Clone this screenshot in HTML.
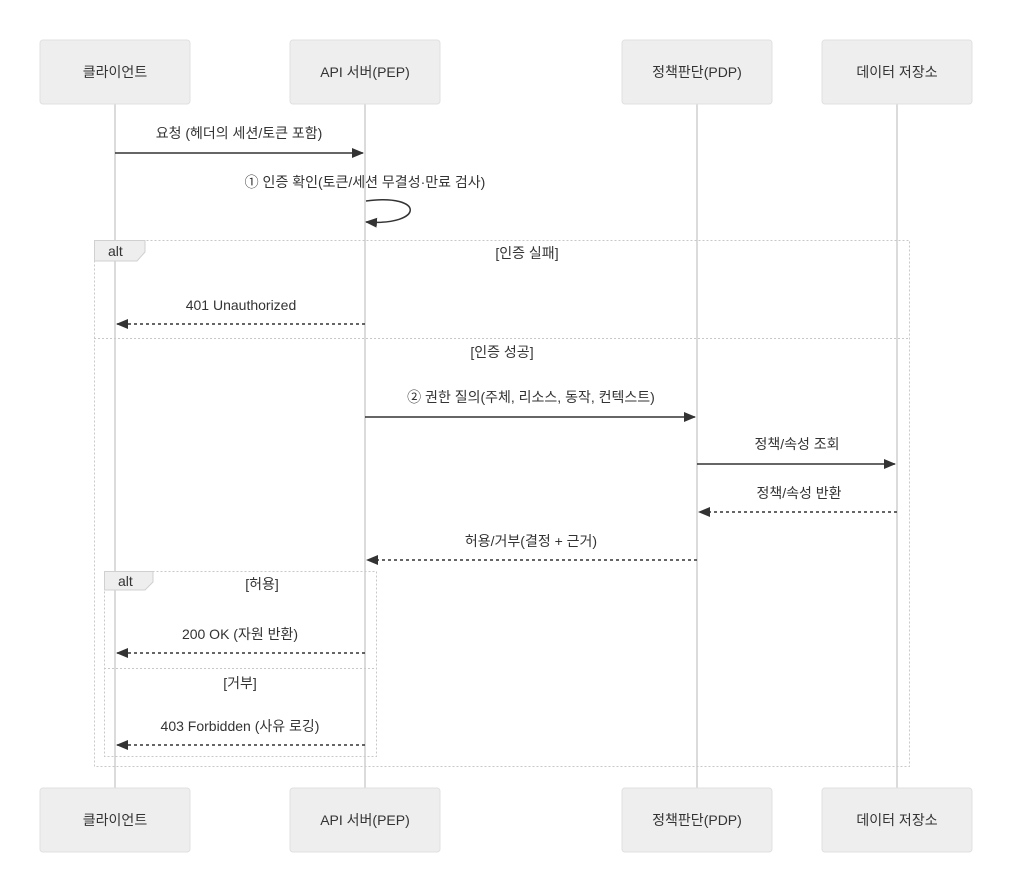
<!DOCTYPE html>
<html><head><meta charset="utf-8"><style>
html,body{margin:0;padding:0;background:#fff;}
svg{display:block;}
text{font-family:"Liberation Sans","Noto Sans CJK KR",sans-serif;font-size:14px;fill:#333;}
</style></head><body>
<svg width="1013" height="892" viewBox="0 0 1013 892" xmlns="http://www.w3.org/2000/svg">
<defs>
<marker id="ah" markerWidth="12" markerHeight="10" refX="11" refY="5" orient="auto" markerUnits="userSpaceOnUse">
<path d="M0,0 L12,5 L0,10 z" fill="#333"/>
</marker>
</defs>
<g stroke="#cfcfcf" stroke-width="1.5">
<line x1="115" y1="104" x2="115" y2="788"/>
<line x1="365" y1="104" x2="365" y2="788"/>
<line x1="697" y1="104" x2="697" y2="788"/>
<line x1="897" y1="104" x2="897" y2="788"/>
</g>
<g fill="#eeeeee" stroke="#e0e0e0" stroke-width="1">
<rect x="40" y="40" width="150" height="64" rx="3"/>
<rect x="290" y="40" width="150" height="64" rx="3"/>
<rect x="622" y="40" width="150" height="64" rx="3"/>
<rect x="822" y="40" width="150" height="64" rx="3"/>
<rect x="40" y="788" width="150" height="64" rx="3"/>
<rect x="290" y="788" width="150" height="64" rx="3"/>
<rect x="622" y="788" width="150" height="64" rx="3"/>
<rect x="822" y="788" width="150" height="64" rx="3"/>
</g>
<g text-anchor="middle">
<text x="115" y="77">클라이언트</text>
<text x="365" y="77">API 서버(PEP)</text>
<text x="697" y="77">정책판단(PDP)</text>
<text x="897" y="77">데이터 저장소</text>
<text x="115" y="825">클라이언트</text>
<text x="365" y="825">API 서버(PEP)</text>
<text x="697" y="825">정책판단(PDP)</text>
<text x="897" y="825">데이터 저장소</text>
</g>
<g fill="none" stroke="#c8c8c8" stroke-width="1" stroke-dasharray="2,2">
<rect x="94.5" y="240.5" width="815" height="526"/>
<line x1="94" y1="338.5" x2="909" y2="338.5"/>
<rect x="104.5" y="571.5" width="272" height="185"/>
<line x1="104" y1="668.5" x2="376" y2="668.5"/>
</g>
<path d="M94.5,240.5 H145 V252 L137,261 H94.5 z" fill="#eeeeee" stroke="#d0d0d0"/>
<path d="M104.5,571.5 H153 V582 L145,590 H104.5 z" fill="#eeeeee" stroke="#d0d0d0"/>
<text x="108" y="256">alt</text>
<text x="118" y="586">alt</text>
<g text-anchor="middle">
<text x="527" y="258">[인증 실패]</text>
<text x="502" y="357">[인증 성공]</text>
<text x="262" y="589">[허용]</text>
<text x="240" y="688">[거부]</text>
</g>
<g stroke="#333" stroke-width="1.5" fill="none">
<line x1="115" y1="153" x2="363" y2="153" marker-end="url(#ah)"/>
<path d="M366,201 C425,193 425,226 366,222" marker-end="url(#ah)"/>
<line x1="365" y1="324" x2="117" y2="324" stroke-dasharray="3,3" marker-end="url(#ah)"/>
<line x1="365" y1="417" x2="695" y2="417" marker-end="url(#ah)"/>
<line x1="697" y1="464" x2="895" y2="464" marker-end="url(#ah)"/>
<line x1="897" y1="512" x2="699" y2="512" stroke-dasharray="3,3" marker-end="url(#ah)"/>
<line x1="697" y1="560" x2="367" y2="560" stroke-dasharray="3,3" marker-end="url(#ah)"/>
<line x1="365" y1="653" x2="117" y2="653" stroke-dasharray="3,3" marker-end="url(#ah)"/>
<line x1="365" y1="745" x2="117" y2="745" stroke-dasharray="3,3" marker-end="url(#ah)"/>
</g>
<g text-anchor="middle">
<text x="239" y="138">요청 (헤더의 세션/토큰 포함)</text>
<text x="365" y="187">① 인증 확인(토큰/세션 무결성·만료 검사)</text>
<text x="241" y="310">401 Unauthorized</text>
<text x="531" y="402">② 권한 질의(주체, 리소스, 동작, 컨텍스트)</text>
<text x="797" y="449">정책/속성 조회</text>
<text x="799" y="498">정책/속성 반환</text>
<text x="531" y="546">허용/거부(결정 + 근거)</text>
<text x="240" y="639">200 OK (자원 반환)</text>
<text x="240" y="731">403 Forbidden (사유 로깅)</text>
</g>
</svg>
</body></html>
